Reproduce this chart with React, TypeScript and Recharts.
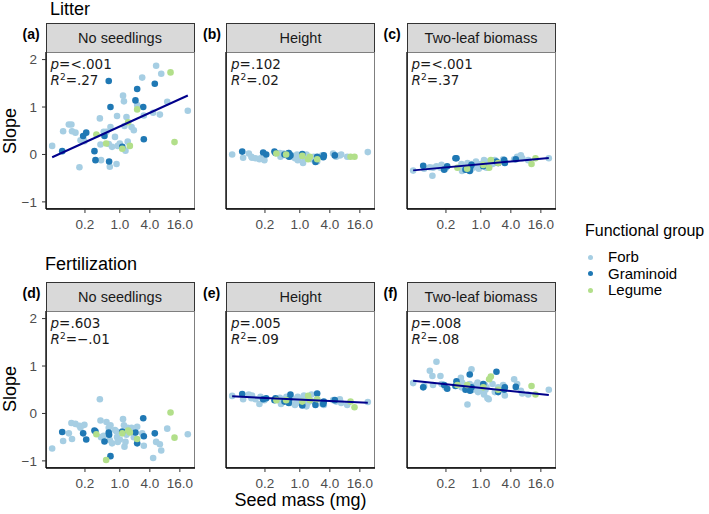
import { ScatterChart, Scatter, XAxis, YAxis } from "recharts";

// species seed mass (mg), grouped by functional group
const forbMass = [
  0.044, 0.073, 0.095, 0.107, 0.11, 0.129, 0.155, 0.163, 0.195, 0.398,
  0.41, 0.42, 0.476, 0.54, 0.6, 0.63, 0.65, 0.7, 0.8, 0.88,
  0.91, 0.86, 1.0, 1.16, 1.21, 1.24, 1.36, 1.3, 1.44, 1.72,
  1.91, 2.23, 2.81, 3.03, 4.66, 5.35, 6.36, 6.77, 8.94, 23.1,
];
const gramMass = [0.07, 0.184, 0.212, 0.31, 0.325, 0.493, 0.6, 0.65, 0.61, 1.12, 2.06, 2.23, 2.95, 3.03, 5.03];
const legumeMass = [0.339, 0.532, 1.12, 1.47, 1.59, 2.23, 10.4, 12.5];

// slopes per panel
const litterNoSeedForb = [
  0.18, 0.49, 0.63, 0.63, 0.49, 0.46, -0.27, 0.3, 0.28, 0.76,
  0.21, -0.12, 0.48, 0.48, 0.22, -0.26, 0.58, 0.16, 0.37, 0.81,
  0.18, -0.2, 0.23, 1.24, 1.12, 0.6, 0.79, 0.08, 0.27, 0.58,
  0.51, 1.04, 1.62, 0.82, 0.88, 1.87, 0.84, 1.7, 1.11, 0.92,
];
const litterNoSeedGram = [0.07, 0.39, 0.46, 0.07, -0.12, 0.39, 1.55, 1.0, -0.15, 0.16, 1.14, 1.38, 1.0, 0.32, 1.49];
const litterNoSeedLegume = [0.42, 0.23, 0.12, 0.68, 0.18, 0.95, 1.73, 0.26];

const litterHeightForb = [
  0.0, -0.07, 0.02, -0.05, -0.07, -0.08, -0.1, -0.08, -0.12, 0.03,
  -0.05, 0.0, 0.02, -0.02, 0.03, -0.05, 0.0, -0.03, -0.08, 0.0,
  -0.12, -0.05, -0.03, -0.18, -0.05, -0.1, 0.0, -0.03, -0.06, -0.1,
  -0.05, -0.15, -0.02, -0.05, 0.02, -0.05, -0.02, 0.0, -0.05, 0.05,
];
const litterHeightGram = [0.06, 0.04, 0.0, 0.06, 0.03, 0.0, 0.03, -0.02, -0.05, 0.01, -0.16, -0.05, -0.06, -0.02, -0.02];
const litterHeightLegume = [0.02, 0.0, -0.03, -0.1, -0.05, -0.1, -0.05, -0.05];

const litterBiomassForb = [
  -0.34, -0.3, -0.27, -0.45, -0.28, -0.25, -0.28, -0.22, -0.3, -0.27,
  -0.2, -0.35, -0.3, -0.18, -0.25, -0.32, -0.2, -0.28, -0.15, -0.22,
  -0.3, -0.25, -0.2, -0.12, -0.25, -0.18, -0.22, -0.28, -0.15, -0.2,
  -0.12, -0.18, -0.1, -0.17, -0.1, -0.05, -0.02, -0.08, -0.12, -0.08,
];
const litterBiomassGram = [-0.24, -0.32, -0.25, -0.08, -0.08, -0.32, -0.35, -0.22, -0.28, -0.25, -0.15, -0.18, -0.12, -0.18, -0.1];
const litterBiomassLegume = [-0.28, -0.3, -0.22, -0.28, -0.12, -0.18, -0.2, -0.08];

const fertNoSeedForb = [
  -0.74, -0.58, -0.42, -0.2, -0.54, -0.22, -0.26, -0.3, -0.24, 0.3,
  -0.15, -0.5, -0.47, -0.18, -0.3, -0.56, -0.25, -0.63, -0.35, -0.5,
  -0.6, -0.38, -0.55, -0.12, -0.25, -0.7, -0.45, -0.6, -0.3, -0.3,
  -0.5, -0.28, -0.42, -0.68, -0.94, -0.6, -0.65, -0.78, -0.32, -0.44,
];
const fertNoSeedGram = [-0.39, -0.42, -0.55, -0.36, -0.38, -0.59, -0.4, -0.9, -0.45, -0.38, -0.4, -0.63, -0.1, -0.48, -0.42];
const fertNoSeedLegume = [-0.44, -0.98, -0.42, -0.36, -0.4, -0.54, 0.02, -0.51];

const fertHeightForb = [
  0.37, 0.3, 0.4, 0.32, 0.38, 0.3, 0.2, 0.35, 0.28, 0.33,
  0.25, 0.2, 0.3, 0.35, 0.25, 0.3, 0.22, 0.32, 0.18, 0.28,
  0.35, 0.22, 0.3, 0.2, 0.38, 0.25, 0.15, 0.3, 0.22, 0.4,
  0.25, 0.3, 0.2, 0.18, 0.28, 0.25, 0.3, 0.22, 0.18, 0.24,
];
const fertHeightGram = [0.41, 0.3, 0.32, 0.28, 0.32, 0.25, 0.22, 0.4, 0.3, 0.17, 0.18, 0.42, 0.2, 0.25, 0.28];
const fertHeightLegume = [0.28, 0.28, 0.25, 0.37, 0.28, 0.3, 0.25, 0.13];

const fertBiomassForb = [
  0.64, 0.58, 0.9, 0.79, 0.6, 1.09, 0.79, 0.62, 0.55, 0.75,
  0.55, 0.65, 0.6, 0.19, 0.62, 0.55, 0.93, 0.5, 0.6, 0.45,
  0.55, 0.65, 0.48, 0.4, 0.6, 0.5, 0.32, 0.55, 0.3, 0.62,
  0.45, 0.55, 0.6, 0.38, 0.72, 0.62, 0.48, 0.42, 0.4, 0.5,
];
const fertBiomassGram = [0.55, 0.6, 0.52, 0.58, 0.68, 0.5, 0.82, 0.55, 0.48, 0.62, 0.88, 0.45, 0.5, 0.55, 0.56];
const fertBiomassLegume = [0.6, 0.6, 0.55, 0.72, 0.78, 0.5, 0.58, 0.4];

// fitted lines: slope = a + b * log2(seed mass); null = not significant
const panelTags = ["(a)", "(b)", "(c)", "(d)", "(e)", "(f)"];
const stripLabels = ["No seedlings", "Height", "Two-leaf biomass"];
const pValues = ["<.001", ".102", "<.001", ".603", ".005", ".008"];
const r2Values = [".27", ".02", ".37", "\u2212.01", ".09", ".08"];
const fits: ([number, number] | null)[] = [[0.59, 0.144], null, [-0.205, 0.029], null, [0.293, -0.015], [0.54, -0.0335]];

const xTicks = [0.2, 1, 4, 16];
const yTicks = [-1, 0, 1, 2];

const FORB = "#A6CEE3";
const GRAM = "#1F78B4";
const LEGUME = "#B2DF8A";
const LINE = "#00008B";
const FONT = "'Liberation Sans', Arial, sans-serif";

const panelSlopes = [
  [litterNoSeedForb, litterNoSeedGram, litterNoSeedLegume],
  [litterHeightForb, litterHeightGram, litterHeightLegume],
  [litterBiomassForb, litterBiomassGram, litterBiomassLegume],
  [fertNoSeedForb, fertNoSeedGram, fertNoSeedLegume],
  [fertHeightForb, fertHeightGram, fertHeightLegume],
  [fertBiomassForb, fertBiomassGram, fertBiomassLegume],
];

const zip = (mass: number[], slope: number[]) => mass.map((m, i) => ({ m, s: slope[i] }));

const allMass = [...forbMass, ...gramMass, ...legumeMass];
const minMass = Math.min(...allMass);
const maxMass = Math.max(...allMass);

const PW = 149;
const PH = 157;
const YW = 40;
const XH = 30;
const colLeft = [45.5, 226, 406.5];
const rowTop = [52, 311];

const dot = (color: string) => (props: any) => <circle cx={props.cx} cy={props.cy} r={3.3} fill={color} />;
const noDot = () => <g />;

function Panel({ idx }: { idx: number }) {
  const col = idx % 3;
  const row = Math.floor(idx / 3);
  const left = colLeft[col];
  const top = rowTop[row];
  const [f, g, l] = panelSlopes[idx];
  const fit = fits[idx];
  const fitData = fit
    ? [minMass, maxMass].map((m) => ({ m, s: fit[0] + fit[1] * Math.log2(m) }))
    : [];

  return (
    <>
      <div
        style={{
          position: "absolute", left, top: top - 29, width: PW, height: 30, boxSizing: "border-box",
          background: "#D9D9D9", border: "1px solid #333", fontFamily: FONT, fontSize: 14.5,
          color: "#1a1a1a", textAlign: "center", lineHeight: "28px",
        }}
      >
        {stripLabels[col]}
      </div>
      <div
        style={{
          position: "absolute", left: left - 23, top: top - 26, fontFamily: FONT, fontSize: 14,
          fontWeight: "bold", color: "#000",
        }}
      >
        {panelTags[idx]}
      </div>
      <div
        style={{
          position: "absolute", left, top, width: PW, height: PH, boxSizing: "border-box",
          border: "1px solid #7f7f7f",
        }}
      />
      <div style={{ position: "absolute", left: left - YW, top }}>
        <ScatterChart width={PW + YW} height={PH + XH} margin={{ top: 0, right: 0, bottom: 0, left: 0 }}>
          <XAxis
            type="number" dataKey="m" scale="log" domain={[0.0331, 32.2]} allowDataOverflow
            ticks={xTicks} tickFormatter={(v: number) => v.toFixed(1)} height={XH}
            tickSize={4} tickMargin={6} interval={0}
            axisLine={{ stroke: "#000", strokeWidth: 1.3 }} tickLine={{ stroke: "#333" }}
            tick={{ fill: "#4D4D4D", fontSize: 13.5, fontFamily: FONT }}
          />
          <YAxis
            type="number" dataKey="s" domain={[-1.15, 2.16]} allowDataOverflow ticks={yTicks}
            width={YW} tickSize={4} tickMargin={5} interval={0}
            tickFormatter={(v: number) => (v < 0 ? `\u2212${-v}` : `${v}`)}
            axisLine={{ stroke: "#000", strokeWidth: 1.3 }} tickLine={{ stroke: "#333" }}
            tick={col === 0 ? { fill: "#4D4D4D", fontSize: 13.5, fontFamily: FONT } : false}
          />
          <Scatter data={zip(forbMass, f)} shape={dot(FORB)} isAnimationActive={false} />
          <Scatter data={zip(gramMass, g)} shape={dot(GRAM)} isAnimationActive={false} />
          <Scatter data={zip(legumeMass, l)} shape={dot(LEGUME)} isAnimationActive={false} />
          {fit && (
            <Scatter
              data={fitData} shape={noDot} line={{ stroke: LINE, strokeWidth: 2 }}
              isAnimationActive={false}
            />
          )}
        </ScatterChart>
      </div>
      <div
        style={{
          position: "absolute", left: left + 5, top: top + 4, fontFamily: "'DejaVu Sans', sans-serif",
          fontSize: 13.5, lineHeight: "16px", color: "#1a1a1a",
        }}
      >
        <div><i>p</i>={pValues[idx]}</div>
        <div>
          <i>R</i><sup style={{ fontSize: 9, verticalAlign: "top", lineHeight: "10px" }}>2</sup>={r2Values[idx]}
        </div>
      </div>
    </>
  );
}

export default function App() {
  const legendItems = [
    { name: "Forb", color: FORB },
    { name: "Graminoid", color: GRAM },
    { name: "Legume", color: LEGUME },
  ];
  return (
    <div style={{ position: "absolute", left: 0, top: 0, width: 709, height: 514, background: "#fff", fontFamily: FONT }}>
      <div style={{ position: "absolute", left: 50, top: 0, fontSize: 18, lineHeight: "18px", color: "#000" }}>Litter</div>
      <div style={{ position: "absolute", left: 45, top: 255, fontSize: 18, lineHeight: "18px", color: "#000" }}>Fertilization</div>
      {[0, 1, 2, 3, 4, 5].map((i) => (
        <Panel key={i} idx={i} />
      ))}
      {[130.5, 389].map((cy) => (
        <div
          key={cy}
          style={{
            position: "absolute", left: 10, top: cy, fontSize: 18, color: "#000",
            transform: "translate(-50%, -50%) rotate(-90deg)", whiteSpace: "nowrap",
          }}
        >
          Slope
        </div>
      ))}
      <div
        style={{
          position: "absolute", left: 300.5, top: 499.5, fontSize: 18, lineHeight: "18px", color: "#000",
          transform: "translate(-50%, -50%)", whiteSpace: "nowrap",
        }}
      >
        Seed mass (mg)
      </div>
      <div style={{ position: "absolute", left: 585, top: 222, fontSize: 16, color: "#000", whiteSpace: "nowrap" }}>
        Functional group
      </div>
      {legendItems.map((it, i) => (
        <div key={it.name}>
          <div
            style={{
              position: "absolute", left: 587.5, top: 254.5 + i * 16.5, width: 5, height: 5,
              borderRadius: "50%", background: it.color,
            }}
          />
          <div style={{ position: "absolute", left: 608, top: 248 + i * 16.5, fontSize: 15, color: "#000" }}>
            {it.name}
          </div>
        </div>
      ))}
    </div>
  );
}
